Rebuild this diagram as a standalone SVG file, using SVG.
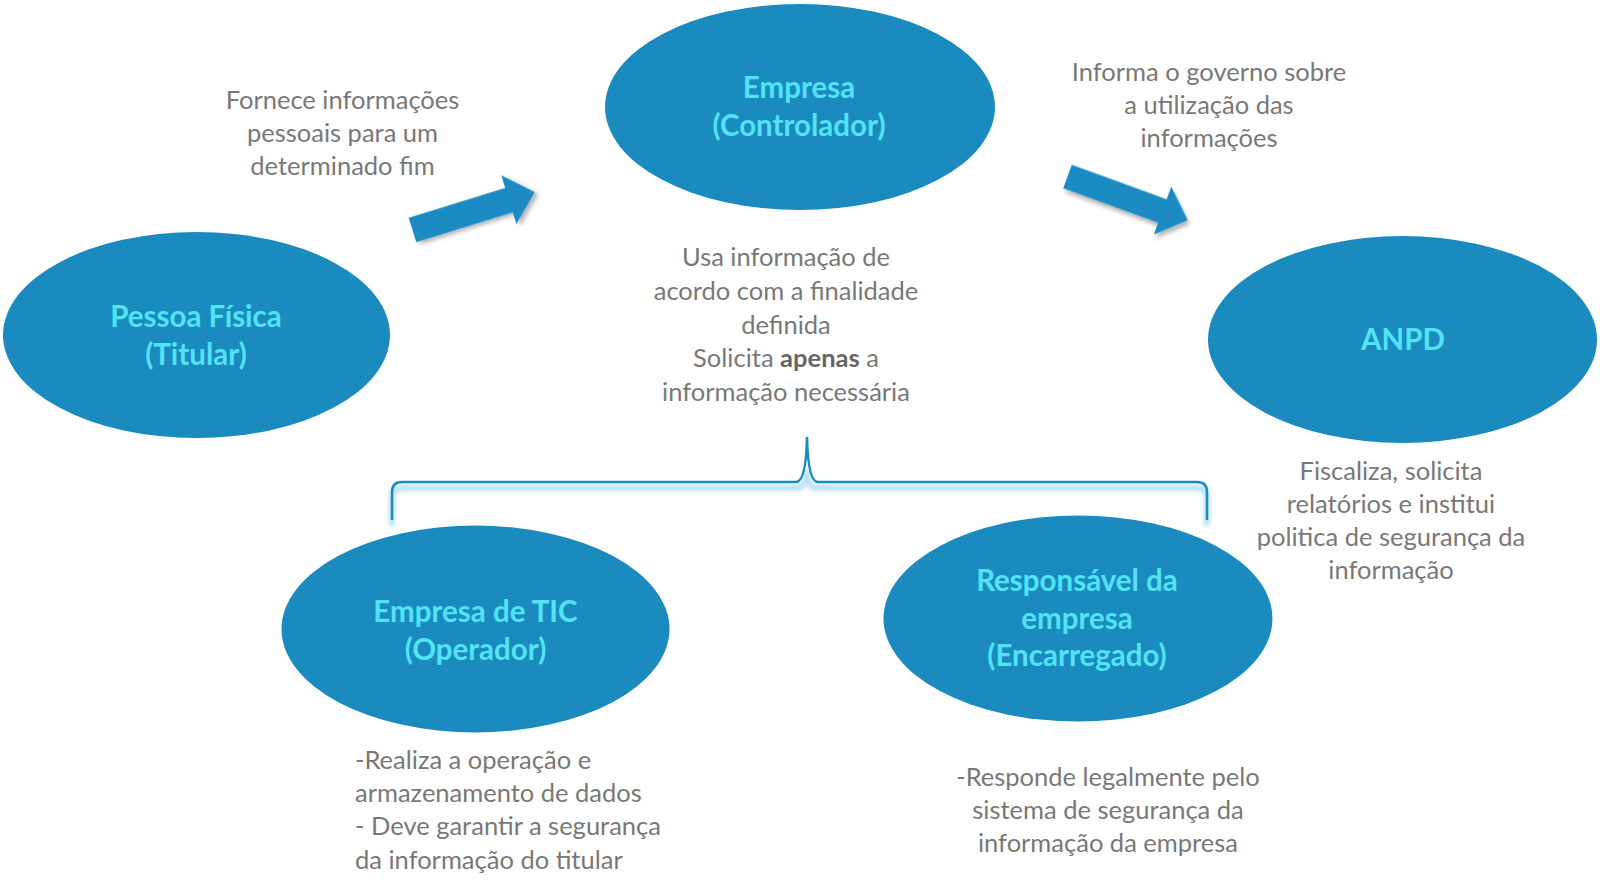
<svg xmlns="http://www.w3.org/2000/svg" width="1600" height="895" viewBox="0 0 1600 895">
  <defs>
    <style>
      .node { fill: #1b8bbf; }
      .title { font-family: Lato, "Open Sans", sans-serif; font-weight: bold; font-size: 29.5px; fill: #52e3f7; text-anchor: middle; }
      .note { font-family: Lato, "Open Sans", sans-serif; font-size: 25.5px; fill: #787878; text-anchor: middle; }
      .left { text-anchor: start; }
      .arrow { fill: #1a8ac3; filter: url(#shadow); }
      .brace { fill: none; stroke: #1a8ac3; stroke-width: 2.5; }
      .glow { fill: none; stroke: #9ad4ec; stroke-width: 6; opacity: 0.7; filter: url(#blur); }
    </style>
    <filter id="shadow" x="-20%" y="-20%" width="140%" height="140%">
      <feDropShadow dx="3" dy="3" stdDeviation="2" flood-color="#000" flood-opacity="0.3"/>
    </filter>
    <filter id="blur" x="-5%" y="-50%" width="110%" height="200%">
      <feGaussianBlur stdDeviation="2"/>
    </filter>
  </defs>
  <rect width="1600" height="895" fill="#ffffff"/>

  <g id="connectors">
    <polygon class="arrow" transform="translate(412.5,230) rotate(-17.2)" points="0,-12.8 101,-12.8 101,-26 128,0 101,25 101,12.8 0,12.8"/>
    <polygon class="arrow" transform="translate(1067.5,176.5) rotate(20)" points="0,-12.4 101,-12.4 101,-26 128,0 101,25 101,12.4 0,12.4"/>
    <path class="glow" d="M392,526 L392,498 Q392,488 402,488 L797,488 Q806,488 807,470 Q808,488 817,488 L1197,488 Q1207,488 1207,498 L1207,526"/>
    <path class="brace" d="M392,520 L392,492 Q392,482 402,482 L796,482 Q806,482 807,437 Q808,482 818,482 L1197,482 Q1207,482 1207,492 L1207,520"/>
  </g>

  <g id="node-titular">
    <ellipse class="node" cx="196.5" cy="335" rx="193.5" ry="103"/>
    <text class="title" x="196" y="327">Pessoa Física</text>
    <text class="title" x="196" y="365">(Titular)</text>
  </g>

  <g id="node-controlador">
    <ellipse class="node" cx="800" cy="107" rx="195" ry="103"/>
    <text class="title" x="799" y="98">Empresa</text>
    <text class="title" x="799" y="136">(Controlador)</text>
  </g>

  <g id="node-anpd">
    <ellipse class="node" cx="1402.5" cy="339.5" rx="194.5" ry="103.5"/>
    <text class="title" x="1403" y="350">ANPD</text>
  </g>

  <g id="node-operador">
    <ellipse class="node" cx="475.5" cy="629" rx="194" ry="103.5"/>
    <text class="title" x="475.5" y="622">Empresa de TIC</text>
    <text class="title" x="475.5" y="660">(Operador)</text>
  </g>

  <g id="node-encarregado">
    <ellipse class="node" cx="1078" cy="618.5" rx="194.5" ry="103"/>
    <text class="title" x="1077" y="591">Responsável da</text>
    <text class="title" x="1077" y="629">empresa</text>
    <text class="title" x="1077" y="666">(Encarregado)</text>
  </g>

  <g id="label-fornece">
    <text class="note" x="342.5" y="109">Fornece informações</text>
    <text class="note" x="342.5" y="142">pessoais para um</text>
    <text class="note" x="342.5" y="175">determinado fim</text>
  </g>

  <g id="label-informa">
    <text class="note" x="1209" y="81">Informa o governo sobre</text>
    <text class="note" x="1209" y="114">a utilização das</text>
    <text class="note" x="1209" y="147">informações</text>
  </g>

  <g id="label-usa">
    <text class="note" x="786" y="266">Usa informação de</text>
    <text class="note" x="786" y="300">acordo com a finalidade</text>
    <text class="note" x="786" y="334">definida</text>
    <text class="note" x="786" y="367">Solicita <tspan font-weight="bold" fill="#666666">apenas</tspan> a</text>
    <text class="note" x="786" y="401">informação necessária</text>
  </g>

  <g id="label-fiscaliza">
    <text class="note" x="1391" y="480">Fiscaliza, solicita</text>
    <text class="note" x="1391" y="513">relatórios e institui</text>
    <text class="note" x="1391" y="546">politica de segurança da</text>
    <text class="note" x="1391" y="579">informação</text>
  </g>

  <g id="label-realiza">
    <text class="note left" x="355" y="769">-Realiza a operação e</text>
    <text class="note left" x="355" y="802">armazenamento de dados</text>
    <text class="note left" x="355" y="835">- Deve garantir a segurança</text>
    <text class="note left" x="355" y="869">da informação do titular</text>
  </g>

  <g id="label-responde">
    <text class="note" x="1108" y="786">-Responde legalmente pelo</text>
    <text class="note" x="1108" y="819">sistema de segurança da</text>
    <text class="note" x="1108" y="852">informação da empresa</text>
  </g>
</svg>
